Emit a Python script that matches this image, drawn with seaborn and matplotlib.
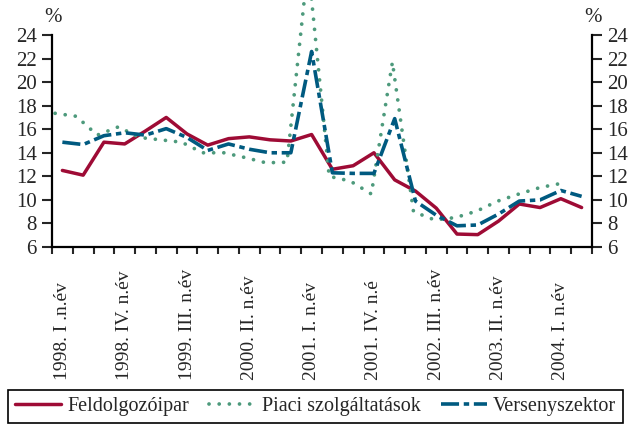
import matplotlib
matplotlib.use('Agg')
import matplotlib.pyplot as plt
import numpy as np
import pandas as pd
import seaborn as sns

sns.set_style('ticks')
plt.rcParams['font.family'] = ['Liberation Serif', 'DejaVu Serif']

# negyedéves adatok, 1998 I. - 2004 II. n.év
quarters = np.arange(26)
feldolgozoipar = [12.5, 12.1, 14.9, 14.75, 15.85, 17.0, 15.6, 14.65, 15.2, 15.35,
                  15.1, 15.0, 15.55, 12.6, 12.9, 14.0, 11.7, 10.75, 9.3, 7.1,
                  7.05, 8.2, 9.65, 9.35, 10.1, 9.35]
versenyszektor = [14.9, 14.7, 15.45, 15.7, 15.5, 16.05, 15.3, 14.2, 14.75, 14.3,
                  14.0, 14.0, 22.6, 12.3, 12.25, 12.25, 16.9, 9.9, 8.7, 7.8,
                  7.87, 8.8, 9.9, 10.0, 10.8, 10.3]
# a piaci szolgáltatások sora egy negyedévvel rövidebb és kissé elcsúszva van rajzolva
piaci = [17.35, 17.1, 15.5, 16.2, 15.3, 15.1, 14.9, 14.0, 14.0, 13.6,
         13.15, 13.2, 30.0, 12.0, 11.6, 10.5, 21.7, 9.0, 8.3, 8.5,
         9.05, 9.9, 10.5, 11.05, 11.4]
piaci_pos = np.arange(len(piaci)) * 1.015 - 0.35

tick_pos = [0, 3, 6, 9, 12, 15, 18, 21, 24]
tick_labels = ['1998. I .n.év', '1998. IV. n.év', '1999. III. n.év', '2000. II. n.év',
               '2001. I. n.év', '2001. IV. n.é', '2002. III. n.év', '2003. II. n.év',
               '2004. I. n.év']

red = '#9E0B35'
blue = '#005A80'
green = '#4D9A7C'

df = pd.DataFrame({'q': quarters, 'Feldolgozóipar': feldolgozoipar,
                   'Versenyszektor': versenyszektor})
dg = pd.DataFrame({'q': piaci_pos, 'Piaci szolgáltatások': piaci})

fig = plt.figure(figsize=(6.31, 4.24), dpi=100)
ax = fig.add_axes([52 / 631, 1 - 247 / 424, 540 / 631, 212 / 424])

sns.lineplot(data=df, x='q', y='Feldolgozóipar', ax=ax, color=red, lw=2.5,
             label='Feldolgozóipar')
sns.lineplot(data=dg, x='q', y='Piaci szolgáltatások', ax=ax, color=green, lw=2.7,
             linestyle=(0, (0.01, 2.7)), dash_capstyle='round', clip_on=False,
             label='Piaci szolgáltatások')
sns.lineplot(data=df, x='q', y='Versenyszektor', ax=ax, color=blue, lw=2.6,
             linestyle=(0, (5, 1.3, 1.5, 1.3)), label='Versenyszektor')

ax.set_xlim(-0.5, 25.5)
ax.set_ylim(6, 24)
ax.set_yticks(np.arange(6, 25, 2))
ax.set_xlabel('')
ax.set_ylabel('')

ax.set_xticks(tick_pos)
ax.set_xticklabels(tick_labels, rotation=90, va='bottom', fontsize=14)
ax.set_xticks(np.arange(-0.5, 26, 1), minor=True)
ax.tick_params(axis='x', which='major', length=0, pad=96)
ax.tick_params(axis='x', which='minor', length=5, width=1.5, direction='out')
ax.tick_params(axis='y', length=7, width=1.5, direction='out', labelsize=15,
               right=True, labelright=True, pad=4)

for s in ['left', 'right', 'bottom']:
    ax.spines[s].set_linewidth(1.6)
    ax.spines[s].set_color('black')
ax.spines['top'].set_visible(False)

fig.text(53 / 631, 1 - 18 / 424, '%', ha='center', va='center', fontsize=15)
fig.text(593 / 631, 1 - 18 / 424, '%', ha='center', va='center', fontsize=15)

handles, labels = ax.get_legend_handles_labels()
ax.get_legend().remove()
leg = fig.legend(handles, labels, loc='lower center', bbox_to_anchor=(0.5, 0.0),
                 ncol=3, fontsize=14.5, frameon=True, fancybox=False,
                 edgecolor='black', framealpha=1, handlelength=2.3,
                 handletextpad=0.3, columnspacing=1.0, borderpad=0.35,
                 borderaxespad=0.05)
leg.get_frame().set_linewidth(1.2)

fig.savefig('out.png', dpi=100)
